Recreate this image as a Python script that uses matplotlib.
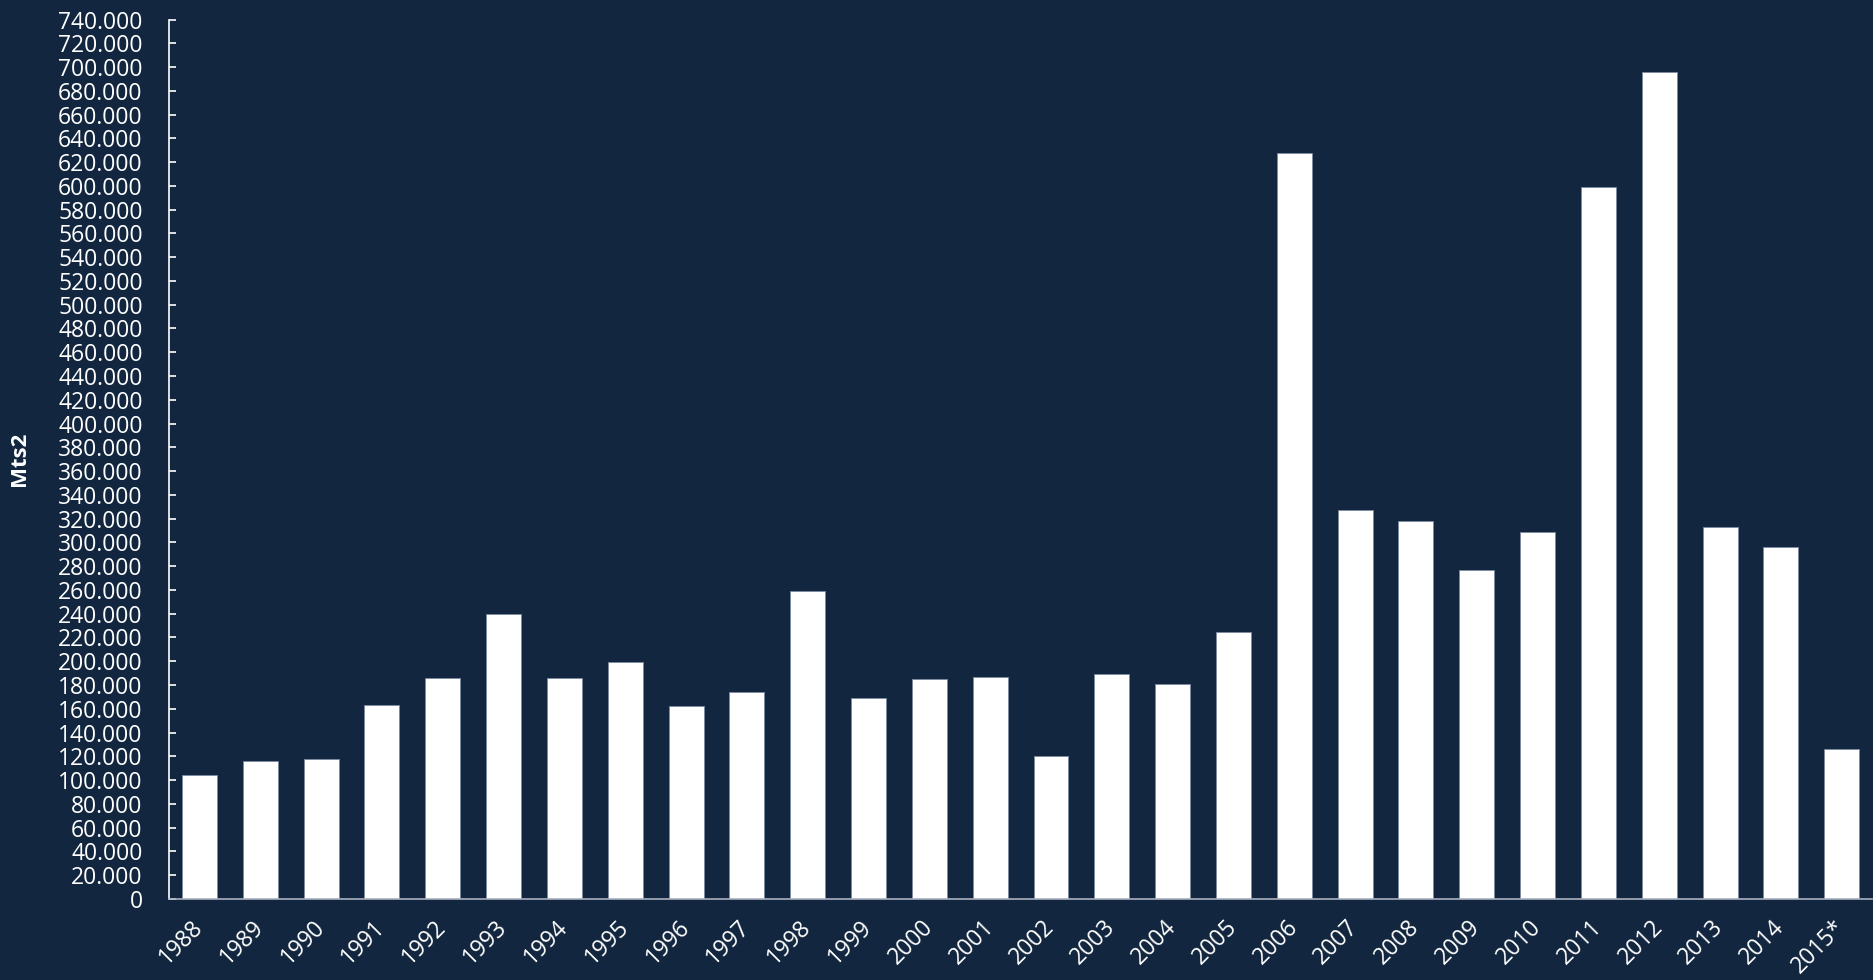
import matplotlib.pyplot as plt
import numpy as np
from matplotlib.ticker import FuncFormatter

# Datos de superficie por año (Mts2)
years = ['1988', '1989', '1990', '1991', '1992', '1993', '1994', '1995', '1996', '1997',
         '1998', '1999', '2000', '2001', '2002', '2003', '2004', '2005', '2006', '2007',
         '2008', '2009', '2010', '2011', '2012', '2013', '2014', '2015*']
mts2 = [104000, 116000, 118000, 163000, 186000, 240000, 186000, 199000, 162000, 174000,
        259000, 169000, 185000, 187000, 120000, 189000, 181000, 225000, 628000, 327000,
        318000, 277000, 309000, 599000, 696000, 313000, 296000, 126000]

bg = '#12263f'
plt.rcParams['font.family'] = ['Open Sans', 'DejaVu Sans']

fig = plt.figure(figsize=(18.74, 9.8), dpi=100)
fig.patch.set_facecolor(bg)
ax = fig.add_axes([0.0902, 0.0827, 0.9088, 0.8974])
ax.set_facecolor(bg)

x = np.arange(len(years))
ax.bar(x, mts2, width=0.575, color='white', edgecolor='#7d8aa0', linewidth=0.6)

ax.set_xlim(-0.5, len(years) - 0.5)
ax.set_ylim(0, 740000)
ax.set_yticks(np.arange(0, 740001, 20000))
ax.yaxis.set_major_formatter(FuncFormatter(lambda v, p: '0' if v == 0 else f'{int(v):,}'.replace(',', '.')))
ax.tick_params(axis='y', direction='in', length=5, width=1.2, color='white',
               labelcolor='white', labelsize=16.5, pad=19)
ax.set_xticks(x)
ax.set_xticklabels(years, rotation=45, ha='right', va='center', rotation_mode='anchor')
ax.tick_params(axis='x', length=0, labelcolor='white', labelsize=16.5, pad=18)

for s in ['top', 'right']:
    ax.spines[s].set_visible(False)
ax.spines['left'].set_color('white')
ax.spines['left'].set_linewidth(1.2)
ax.spines['bottom'].set_color('#a9b1bf')
ax.spines['bottom'].set_linewidth(1.2)

ax.set_ylabel('Mts2', color='white', fontsize=16, fontweight='bold', labelpad=20)

fig.savefig('out.png', facecolor=bg)
